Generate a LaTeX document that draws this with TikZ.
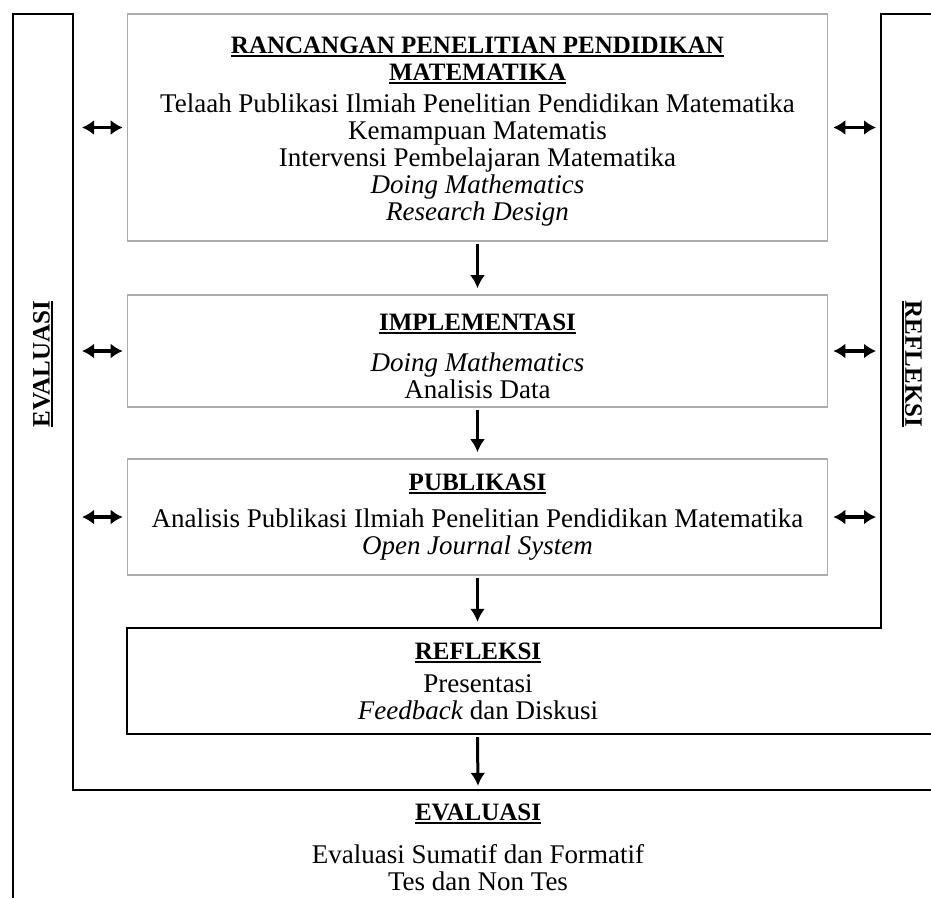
\documentclass[tikz,border=0pt]{standalone}
\usepackage{fontspec}
\setmainfont{Liberation Serif}
\usepackage{tikz}
\usetikzlibrary{arrows.meta, positioning}

\newcommand{\judul}[1]{{\fontsize{25}{27}\selectfont\bfseries\setbox0\hbox{#1}\rlap{\rule[-3.5pt]{\wd0}{1.7pt}}\box0}}

\tikzset{
    kotak/.style={draw=gray!65, line width=1.6pt, minimum width=700pt, align=center, inner sep=0pt},
    isi/.style={align=center, inner sep=0pt},
    bingkai/.style={line width=1.8pt},
    panah/.style={-{Latex[length=13pt,width=15pt]}, line width=3pt},
    panahdua/.style={{Latex[length=12pt,width=15pt]}-{Latex[length=12pt,width=15pt]}, line width=3.4pt}
}

\begin{document}
\begin{tikzpicture}[x=1pt, y=-1pt, font=\fontsize{27}{27}\selectfont]
    \useasboundingbox (0,0) rectangle (931,898);

    % Bingkai evaluasi dan refleksi
    \draw[bingkai] (931,790) -- (73,790) -- (73,14) -- (13,14) -- (13,898);
    \draw[bingkai] (931,14) -- (881,14) -- (881,628) -- (127,628) -- (127,734) -- (931,734);
    \coordinate (kiri) at (73,0);
    \coordinate (kanan) at (881,0);

    % Kotak tahapan
    \node[kotak, minimum height=227pt] (rancangan) at (477.5,127.5)
        {\rule{0pt}{25pt}\judul{RANCANGAN PENELITIAN PENDIDIKAN}\\ \judul{MATEMATIKA}\\[5pt]
         Telaah Publikasi Ilmiah Penelitian Pendidikan Matematika\\
         Kemampuan Matematis\\
         Intervensi Pembelajaran Matematika\\
         \textit{Doing Mathematics}\\
         \textit{Research Design}};
    \node[kotak, minimum height=112pt] (implementasi) at (477.5,351)
        {\rule{0pt}{27pt}\judul{IMPLEMENTASI}\\[14pt] \textit{Doing Mathematics}\\ Analisis Data};
    \node[kotak, minimum height=116pt] (publikasi) at (477.5,517)
        {\judul{PUBLIKASI}\\[10pt]
         Analisis Publikasi Ilmiah Penelitian Pendidikan Matematika\\
         \textit{Open Journal System}};
    \node[isi, minimum height=106pt] (refleksi) at (478,681)
        {\judul{REFLEKSI}\\[6pt] Presentasi\\ \textit{Feedback} dan Diskusi};
    \node[isi, minimum height=108pt] (evaluasi) at (478,847)
        {\judul{EVALUASI}\\[16pt] Evaluasi Sumatif dan Formatif\\ Tes dan Non Tes};

    % Label samping
    \node[isi, rotate=90] (labeleval) at (43,364) {\judul{EVALUASI}};
    \node[isi, rotate=-90] (labelref) at (912,364) {\judul{REFLEKSI}};

    % Panah antar tahapan
    \draw[panah, shorten <=2pt, shorten >=6pt] (rancangan.south) -- (implementasi.north);
    \draw[panah, shorten <=2pt, shorten >=6pt] (implementasi.south) -- (publikasi.north);
    \draw[panah, shorten <=2pt, shorten >=6pt] (publikasi.south) -- (publikasi.south |- refleksi.north);
    \draw[panah, shorten <=3pt, shorten >=7pt] (publikasi.south |- refleksi.south) -- (evaluasi.north);

    % Panah dua arah
    \foreach \k in {rancangan, implementasi, publikasi} {
        \draw[panahdua, shorten <=9pt, shorten >=4pt] (kiri |- \k.west) -- (\k.west);
        \draw[panahdua, shorten <=5pt, shorten >=5pt] (\k.east) -- (kanan |- \k.east);
    }
\end{tikzpicture}
\end{document}
